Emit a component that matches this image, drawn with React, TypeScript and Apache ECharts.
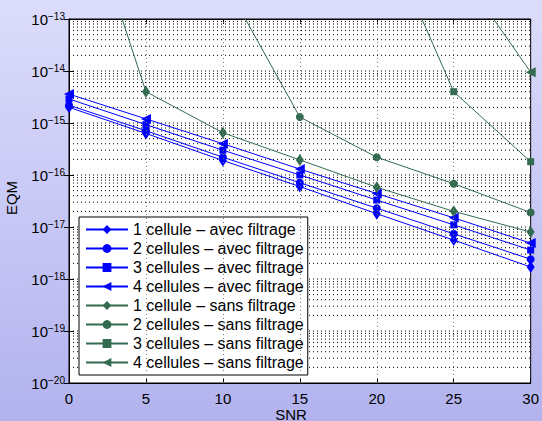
import React, { useEffect, useRef } from "react";
import * as echarts from "echarts";

const snr = [0, 5, 10, 15, 20, 25, 30];
const avec1 = [2.0e-15, 6.3e-16, 1.9e-16, 6.0e-17, 1.8e-17, 5.6e-18, 1.7e-18];
const avec2 = [2.2e-15, 7.1e-16, 2.2e-16, 7.1e-17, 2.3e-17, 7.4e-18, 2.4e-18];
const avec3 = [2.9e-15, 9.3e-16, 3.0e-16, 1.0e-16, 3.3e-17, 1.1e-17, 3.6e-18];
const avec4 = [3.6e-15, 1.2e-15, 4.0e-16, 1.3e-16, 4.4e-17, 1.5e-17, 4.9e-18];
const sans1 = [1.3e-10, 4.0e-15, 6.5e-16, 1.95e-16, 5.8e-17, 2.0e-17, 8.0e-18];
const sans2 = [null, null, 6e-13, 1.3e-15, 2.2e-16, 6.8e-17, 1.9e-17];
const sans3 = [null, null, null, null, 9.6e-12, 4.0e-15, 1.8e-16];
const sans4 = [null, null, null, null, null, 1.25e-12, 9.5e-15];

const names = [
  "1 cellule – avec filtrage",
  "2 cellules – avec filtrage",
  "3 cellules – avec filtrage",
  "4 cellules – avec filtrage",
  "1 cellule – sans filtrage",
  "2 cellules – sans filtrage",
  "3 cellules – sans filtrage",
  "4 cellules – sans filtrage",
];
const seriesValues = [avec1, avec2, avec3, avec4, sans1, sans2, sans3, sans4];
const yMinExp = -20;
const yMaxExp = -13;

const BLUE = "#0000ff";
const GREEN = "#336b50";
const FONT = "Liberation Sans";

export default function App() {
  const ref = useRef<HTMLDivElement>(null);
  useEffect(() => {
    if (!ref.current) return;
    const chart = echarts.init(ref.current, null, { renderer: "svg" });

    const symbols: any[] = [
      { symbol: "diamond", size: [8, 12], rotate: 0 },
      { symbol: "circle", size: 8, rotate: 0 },
      { symbol: "rect", size: 7, rotate: 0 },
      { symbol: "triangle", size: 10, rotate: 90 },
    ];

    // horizontal grid (decades + minor 2..9), drawn as broken line segments
    const hGridData: any[] = [];
    for (let e = yMinExp; e < yMaxExp; e++) {
      for (let m = 1; m <= 9; m++) {
        if (m === 1 && e === yMinExp) continue;
        const v = m * Math.pow(10, e);
        hGridData.push([0, v], [30, v], [30, null]);
      }
    }
    const xGrid: any[] = snr.slice(1, snr.length - 1).map((x) => ({ xAxis: x }));

    const series: any[] = [];
    series.push({
      type: "line",
      data: hGridData,
      symbol: "none",
      connectNulls: false,
      silent: true,
      z: 1,
      lineStyle: { type: [1, 3], color: "#000", width: 1 },
    });
    series.push({
      type: "line",
      data: [[0, Math.pow(10, yMinExp)], [30, Math.pow(10, yMinExp)]],
      symbol: "none",
      lineStyle: { opacity: 0 },
      z: 1,
      silent: true,
      markLine: {
        silent: true,
        symbol: ["none", "none"],
        label: { show: false },
        lineStyle: { type: [1, 3], color: "#777", width: 1 },
        emphasis: { disabled: true },
        data: xGrid,
      },
    });
    seriesValues.forEach((vals, i) => {
      const color = i < 4 ? BLUE : GREEN;
      const s = symbols[i % 4];
      series.push({
        name: names[i],
        type: "line",
        data: snr.map((x, j) => [x, vals[j]]),
        symbol: s.symbol,
        symbolSize: s.size,
        symbolRotate: s.rotate,
        showAllSymbol: true,
        clip: true,
        z: 3,
        lineStyle: { color, width: 1 },
        itemStyle: { color, borderWidth: 0 },
      });
    });

    const expLabel = (v: number) => {
      const e = Math.round(Math.log10(v));
      return "{b|10}{e|" + (e < 0 ? "−" + -e : String(e)) + "}";
    };

    chart.setOption({
      animation: false,
      backgroundColor: "transparent",
      textStyle: { fontFamily: FONT },
      grid: {
        left: 69,
        right: 10,
        top: 19,
        bottom: 38,
        show: true,
        backgroundColor: "#fff",
        borderColor: "#000",
        borderWidth: 1,
      },
      legend: {
        orient: "vertical",
        left: 79,
        top: 217,
        data: names,
        backgroundColor: "#fff",
        borderColor: "#000",
        borderWidth: 1,
        borderRadius: 0,
        padding: [4, 4, 4, 6],
        itemGap: 2,
        itemWidth: 42,
        itemHeight: 11,
        textStyle: { fontSize: 16, color: "#000", fontFamily: FONT, lineHeight: 17 },
      },
      xAxis: [
        {
          type: "value",
          min: 0,
          max: 30,
          interval: 5,
          axisLine: { show: true, lineStyle: { color: "#000", width: 1 } },
          axisTick: { show: true, inside: true, length: 5, lineStyle: { color: "#000" } },
          axisLabel: { fontSize: 15, color: "#000", margin: 8, lineHeight: 14, fontFamily: FONT },
          splitLine: { show: false },
        },
        {
          type: "value",
          position: "top",
          min: 0,
          max: 30,
          interval: 5,
          axisLine: { show: true, lineStyle: { color: "#000", width: 1 } },
          axisTick: { show: true, inside: true, length: 5, lineStyle: { color: "#000" } },
          axisLabel: { show: false },
          splitLine: { show: false },
        },
      ],
      yAxis: [
        {
          type: "log",
          logBase: 10,
          min: Math.pow(10, yMinExp),
          max: Math.pow(10, yMaxExp),
          splitNumber: 7,
          axisLine: { show: true, lineStyle: { color: "#000", width: 1 } },
          axisTick: { show: true, inside: true, length: 5, lineStyle: { color: "#000" } },
          axisLabel: {
            formatter: expLabel,
            color: "#000",
            margin: 4,
            rich: {
              b: { fontSize: 15, color: "#000", fontFamily: FONT, verticalAlign: "middle", lineHeight: 16 },
              e: { fontSize: 10, color: "#000", fontFamily: FONT, verticalAlign: "top", lineHeight: 10, padding: [0, 0, 16, 0] },
            },
          },
          splitLine: { show: false },
        },
        {
          type: "log",
          logBase: 10,
          position: "right",
          min: Math.pow(10, yMinExp),
          max: Math.pow(10, yMaxExp),
          splitNumber: 7,
          axisLine: { show: true, lineStyle: { color: "#000", width: 1 } },
          axisTick: { show: true, inside: true, length: 5, lineStyle: { color: "#000" } },
          axisLabel: { show: false },
          splitLine: { show: false },
        },
      ],
      graphic: [
        {
          type: "text",
          x: 291,
          y: 414,
          style: { text: "SNR", fontSize: 15, lineHeight: 14, fill: "#000", fontFamily: FONT, align: "center", verticalAlign: "middle" },
        },
        {
          type: "text",
          x: 11,
          y: 198,
          rotation: Math.PI / 2,
          style: { text: "EQM", fontSize: 15, fill: "#000", fontFamily: FONT, align: "center", verticalAlign: "middle" },
        },
      ],
      series,
    });
    return () => chart.dispose();
  }, []);

  return (
    <div
      ref={ref}
      style={{
        position: "fixed",
        left: 0,
        top: 0,
        width: 542,
        height: 421,
        background: "linear-gradient(to bottom, #dcdcfb 0%, #c8c8f6 50%, #b2b2ee 100%)",
      }}
    />
  );
}
